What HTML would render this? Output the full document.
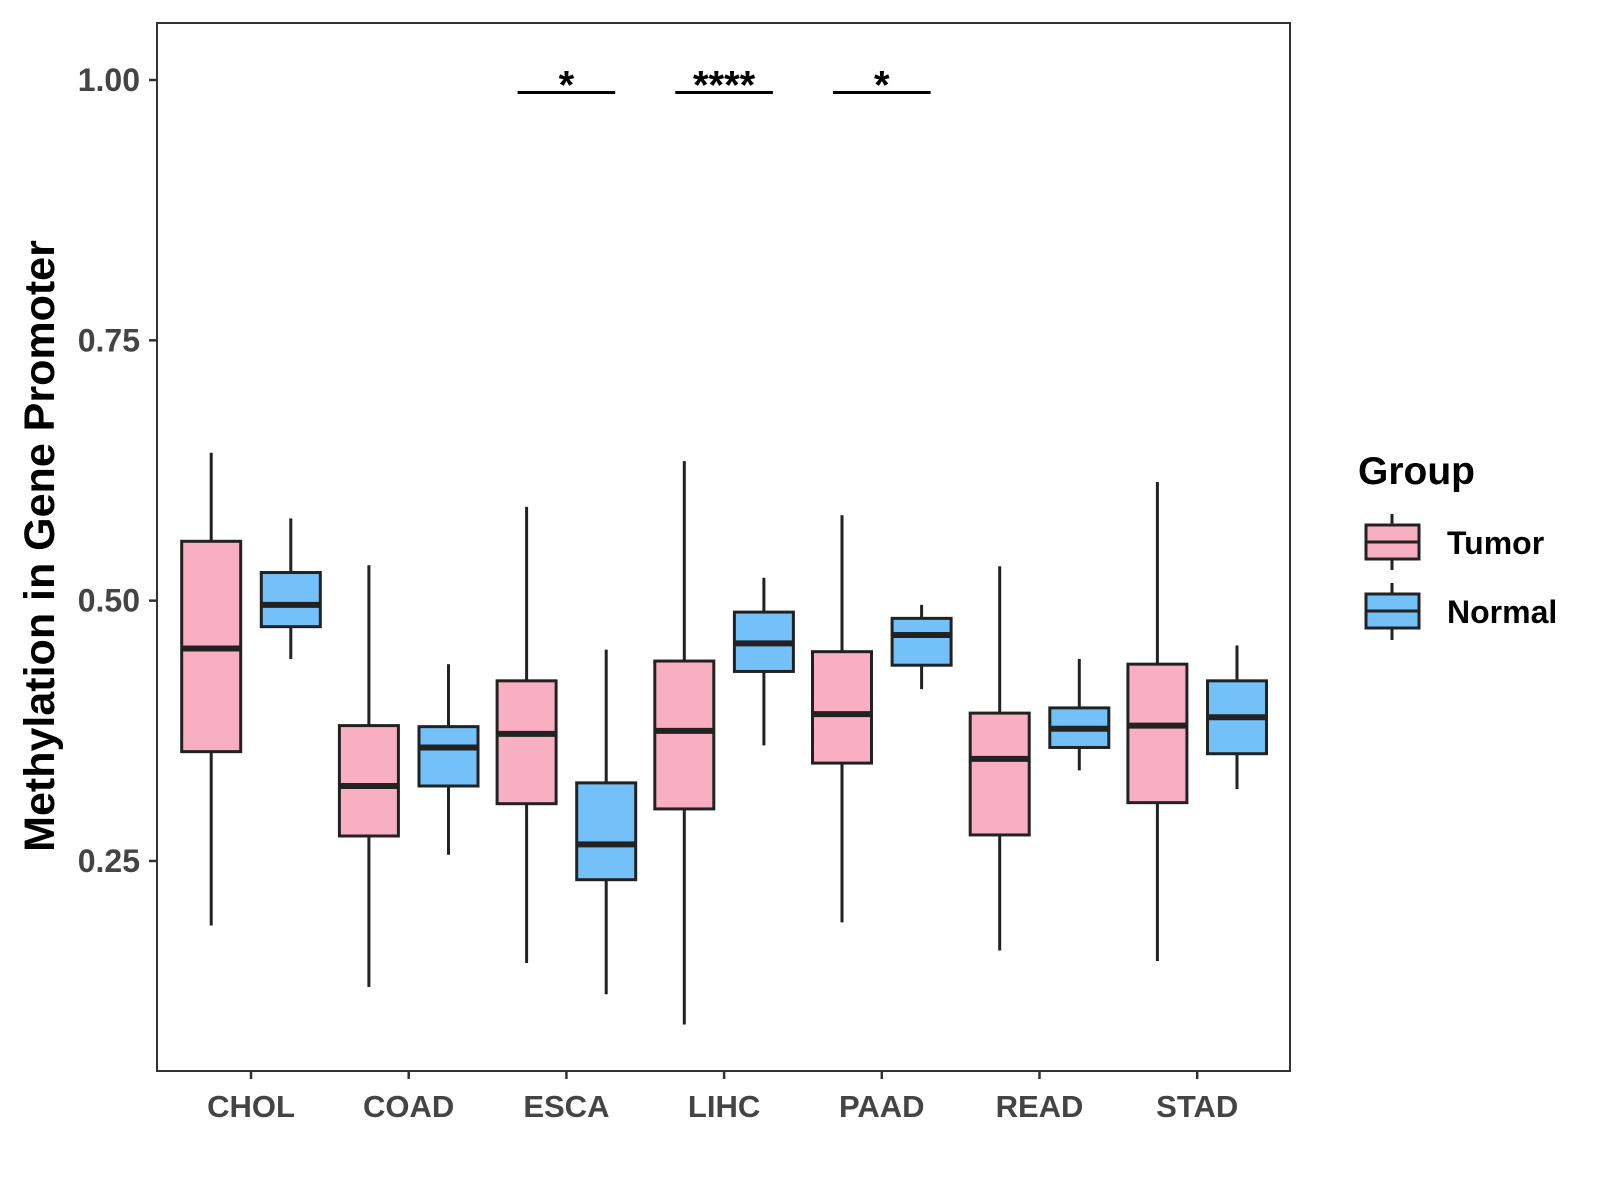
<!DOCTYPE html>
<html><head><meta charset="utf-8"><style>
html,body{margin:0;padding:0;background:#fff;}
svg{display:block;font-family:"Liberation Sans",sans-serif;}
</style></head><body>
<svg id="chart" width="1600" height="1200" viewBox="0 0 1600 1200">
<rect x="0" y="0" width="1600" height="1200" fill="#fff"/>
<g id="plot"></g>
<text transform="translate(54,546) rotate(-90)" text-anchor="middle" font-size="43" font-weight="bold" fill="#000">Methylation in Gene Promoter</text>
<g>
<text x="1358" y="484" font-size="39" font-weight="bold" fill="#000">Group</text>
<g>
<line x1="1392" y1="514" x2="1392" y2="570" stroke="#222" stroke-width="3"/>
<rect x="1366" y="525" width="53" height="34" fill="#F9AFC3" stroke="#222" stroke-width="3"/>
<line x1="1366" y1="542" x2="1419" y2="542" stroke="#222" stroke-width="3"/>
<text x="1447" y="554" font-size="32" font-weight="bold" fill="#000">Tumor</text>
</g>
<g>
<line x1="1392" y1="583" x2="1392" y2="640" stroke="#222" stroke-width="3"/>
<rect x="1366" y="594" width="53" height="34" fill="#74C0F8" stroke="#222" stroke-width="3"/>
<line x1="1366" y1="611" x2="1419" y2="611" stroke="#222" stroke-width="3"/>
<text x="1447" y="623" font-size="32" font-weight="bold" fill="#000">Normal</text>
</g>
</g>
</svg>
<script>
const categories = ["CHOL","COAD","ESCA","LIHC","PAAD","READ","STAD"];
// [lowWhisker, q1, median, q3, highWhisker]
const tumorStats = [
 [0.188,0.355,0.454,0.557,0.642],
 [0.129,0.274,0.322,0.380,0.534],
 [0.152,0.305,0.372,0.423,0.590],
 [0.093,0.300,0.375,0.442,0.634],
 [0.191,0.344,0.391,0.451,0.582],
 [0.164,0.275,0.348,0.392,0.533],
 [0.154,0.306,0.380,0.439,0.614]
];
const normalStats = [
 [0.444,0.475,0.496,0.527,0.579],
 [0.256,0.322,0.359,0.379,0.439],
 [0.122,0.232,0.266,0.325,0.453],
 [0.361,0.432,0.459,0.489,0.522],
 [0.415,0.438,0.467,0.483,0.496],
 [0.337,0.359,0.377,0.397,0.444],
 [0.319,0.353,0.388,0.423,0.457]
];
const yTicks = [0.25,0.50,0.75,1.00];
const yTickLabels = ["0.25","0.50","0.75","1.00"];
const sigCategories = ["ESCA","LIHC","PAAD"];
const sigLabels = ["*","****","*"];
const sigLevel = 0.988;

const NS="http://www.w3.org/2000/svg";
const P={l:157,r:1290,t:23,b:1071};
const y=v=>80+(1-v)*1041.3;
const x=i=>251+i*157.7;
const off=39.8, bw=59;
const g=document.getElementById('plot');
function mk(t,a,parent){const e=document.createElementNS(NS,t);for(const k in a)e.setAttribute(k,a[k]);(parent||g).appendChild(e);return e;}

const frame=mk('rect',{'x':P.l,'y':P.t,'width':P.r-P.l,'height':P.b-P.t,'fill':'none','stroke':'#333','stroke-width':2});



yTicks.forEach((v,i)=>{
 const t=mk('line',{'x1':P.l-8,'x2':P.l,'y1':y(v),'y2':y(v),'stroke':'#333','stroke-width':2.5});
 
 
 const l=mk('text',{'x':P.l-17,'y':y(v)+11,'text-anchor':'end','font-size':32,'font-weight':'bold','fill':'#444'});
 l.textContent=yTickLabels[i];
 
 
});
categories.forEach((c,i)=>{
 const t=mk('line',{'x1':x(i),'x2':x(i),'y1':P.b,'y2':P.b+8,'stroke':'#333','stroke-width':2.5});
 
 
 const l=mk('text',{'x':x(i),'y':1117,'text-anchor':'middle','font-size':31,'font-weight':'bold','fill':'#444'});
 l.textContent=c;
 
 
});
function box(cx,s,fill,name){
 const bg=mk('g',{});
 
 
 mk('line',{'x1':cx,'x2':cx,'y1':y(s[4]),'y2':y(s[3]),'stroke':'#222','stroke-width':3},bg);
 mk('line',{'x1':cx,'x2':cx,'y1':y(s[1]),'y2':y(s[0]),'stroke':'#222','stroke-width':3},bg);
 mk('rect',{'x':cx-bw/2,'y':y(s[3]),'width':bw,'height':y(s[1])-y(s[3]),'fill':fill,'stroke':'#222','stroke-width':3},bg);
 mk('line',{'x1':cx-bw/2,'x2':cx+bw/2,'y1':y(s[2]),'y2':y(s[2]),'stroke':'#222','stroke-width':6},bg);
}
categories.forEach((c,i)=>{
 box(x(i)-off,tumorStats[i],'#F9AFC3','box-tumor-'+c.toLowerCase());
 box(x(i)+off,normalStats[i],'#74C0F8','box-normal-'+c.toLowerCase());
});
sigCategories.forEach((c,k)=>{
 const i=categories.indexOf(c);
 const sl=mk('line',{'x1':x(i)-off-9,'x2':x(i)+off+9,'y1':y(sigLevel),'y2':y(sigLevel),'stroke':'#000','stroke-width':3});
 
 
 const st=mk('text',{'x':x(i),'y':y(sigLevel)+6,'text-anchor':'middle','font-size':40,'font-weight':'bold','fill':'#000'});
 st.textContent=sigLabels[k];
 
 
});
</script>
</body></html>
